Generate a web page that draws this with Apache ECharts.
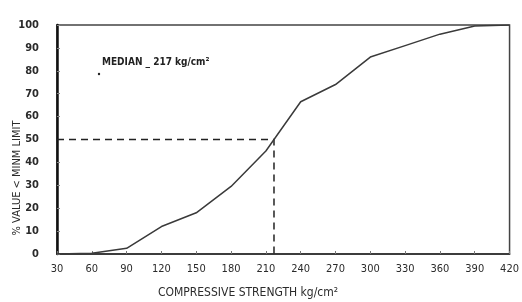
<!DOCTYPE html>
<html>
<head>
<meta charset="utf-8">
<script src="https://cdn.jsdelivr.net/npm/echarts@6/dist/echarts.min.js"></script>
<style>
  html, body { margin: 0; padding: 0; background: #fff; }
  #chart { width: 522px; height: 302px; }
</style>
</head>
<body>
<div id="chart"></div>
<script>
// cumulative distribution
var strength = [30, 60, 90, 120, 150, 180, 210, 217, 240, 270, 300, 330, 360, 390, 420];
var percentBelow = [0, 0.3, 2.5, 12, 18, 29.5, 45, 50, 66.5, 74, 86, 91, 96, 99.6, 100];
// median guide (dashed)
var medianX = 217;
var medianY = 50;
var xTicks = [30, 420, 30]; // min, max, interval
var yTicks = [0, 100, 10];

var ink = "#2b2b2b";
var font = "DejaVu Sans Condensed";

var chart = echarts.init(document.getElementById("chart"));

chart.setOption({
  animation: false,
  backgroundColor: "#fff",
  grid: {
    left: 57,
    right: 11,
    top: 25,
    bottom: 48,
    show: true,
    borderColor: "#444",
    borderWidth: 1.5
  },
  xAxis: {
    type: "value",
    min: xTicks[0],
    max: xTicks[1],
    interval: xTicks[2],
    splitLine: { show: false },
    axisLine: { lineStyle: { color: ink, width: 1.5 } },
    axisTick: { inside: true, length: 3, lineStyle: { color: "#777" } },
    axisLabel: {
      color: ink,
      fontFamily: font,
      fontSize: 11,
      margin: 10
    }
  },
  yAxis: {
    type: "value",
    min: yTicks[0],
    max: yTicks[1],
    interval: yTicks[2],
    splitLine: { show: false },
    axisLine: { show: true, lineStyle: { color: "#111", width: 2.5 } },
    axisTick: { show: true, inside: true, length: 3, lineStyle: { color: "#888" } },
    axisLabel: {
      color: ink,
      fontFamily: font,
      fontSize: 11,
      fontWeight: "bold",
      margin: 18,
      padding: [4, 0, 0, 0]
    }
  },
  series: [
    {
      type: "line",
      data: strength.map(function (s, i) { return [s, percentBelow[i]]; }),
      symbol: "none",
      lineStyle: { color: "#3a3a3a", width: 1.5 },
      z: 3
    },
    {
      // dashed median guide
      type: "line",
      data: [[xTicks[0], medianY], [medianX, medianY], [medianX, yTicks[0]]],
      symbol: "none",
      lineStyle: { color: "#222", width: 1.5, type: [7, 5] },
      z: 2
    }
  ],
  graphic: [
    {
      type: "text",
      left: 102,
      top: 57,
      style: {
        text: "MEDIAN _ 217 kg/cm²",
        fill: "#222",
        font: "bold 10px " + font
      }
    },
    {
      type: "circle",
      shape: { cx: 99, cy: 74, r: 1.2 },
      style: { fill: "#222" }
    },
    {
      type: "text",
      x: 17,
      y: 178,
      rotation: Math.PI / 2,
      style: {
        text: "% VALUE < MINM LIMIT",
        fill: ink,
        font: "11px " + font,
        align: "center",
        verticalAlign: "middle"
      }
    },
    {
      type: "text",
      x: 248,
      y: 293,
      style: {
        text: "COMPRESSIVE STRENGTH kg/cm²",
        fill: ink,
        font: "12px " + font,
        align: "center",
        verticalAlign: "middle"
      }
    }
  ]
});
</script>
</body>
</html>
